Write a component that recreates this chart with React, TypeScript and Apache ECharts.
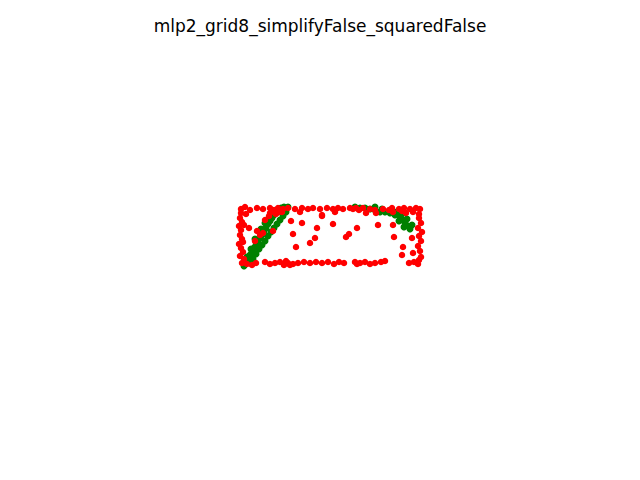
import React, { useEffect, useRef } from "react";
import * as echarts from "echarts";

const title = "mlp2_grid8_simplifyFalse_squaredFalse";

const greenPoints: number[][] = [
  [-0.87, -0.29], [-0.85, -0.25], [-0.83, -0.21], [-0.81, -0.18], [-0.79, -0.15],
  [-0.77, -0.11], [-0.75, -0.08], [-0.73, -0.04], [-0.71, -0.01], [-0.69, 0.02],
  [-0.67, 0.06], [-0.65, 0.09], [-0.63, 0.13], [-0.61, 0.16], [-0.59, 0.19],
  [-0.57, 0.22], [-0.55, 0.25], [-0.53, 0.27], [-0.5, 0.29], [-0.47, 0.3], [-0.43, 0.3],
  [-0.81, -0.25], [-0.78, -0.22], [-0.75, -0.17], [-0.72, -0.12], [-0.69, -0.08],
  [-0.66, -0.04], [-0.63, 0.01], [-0.6, 0.05], [-0.57, 0.09], [-0.54, 0.13],
  [-0.51, 0.17], [-0.48, 0.21], [-0.45, 0.25],
  [-0.84, -0.2], [-0.8, -0.12], [-0.76, -0.02], [-0.7, 0.08], [-0.66, 0.14], [-0.62, 0.19],
  [0.24, 0.3], [0.29, 0.29], [0.34, 0.29], [0.39, 0.28], [0.44, 0.27], [0.49, 0.25],
  [0.54, 0.25], [0.59, 0.24], [0.64, 0.22], [0.69, 0.2], [0.72, 0.17], [0.74, 0.14],
  [0.77, 0.11], [0.79, 0.08], [0.66, 0.25], [0.61, 0.27], [0.71, 0.23], [0.76, 0.18],
  [0.81, 0.12], [0.51, 0.28], [0.44, 0.3], [0.68, 0.16], [0.73, 0.1],
];

const redPoints: number[][] = [
  // top edge
  [-0.9, 0.28], [-0.86, 0.3], [-0.81, 0.27], [-0.74, 0.29], [-0.68, 0.28], [-0.61, 0.29],
  [-0.56, 0.27], [-0.53, 0.29], [-0.48, 0.28], [-0.43, 0.29], [-0.36, 0.28], [-0.29, 0.29],
  [-0.23, 0.28], [-0.18, 0.29], [-0.11, 0.28], [-0.04, 0.29], [0.02, 0.28], [0.07, 0.29],
  [0.12, 0.28], [0.19, 0.29], [0.25, 0.29], [0.28, 0.27], [0.32, 0.29], [0.39, 0.28],
  [0.44, 0.27], [0.52, 0.28], [0.61, 0.29], [0.68, 0.28], [0.73, 0.29], [0.79, 0.28],
  [0.85, 0.29], [0.89, 0.28],
  [-0.9, 0.24], [-0.85, 0.23], [-0.61, 0.24], [-0.55, 0.23], [-0.49, 0.25], [-0.09, 0.22],
  [0.04, 0.25], [0.35, 0.24], [0.45, 0.24], [0.62, 0.25], [0.71, 0.26], [0.75, 0.24],
  [0.82, 0.25], [0.88, 0.23], [-0.58, 0.27], [-0.52, 0.25], [0.22, 0.28], [0.58, 0.27],
  // left edge
  [-0.91, 0.19], [-0.89, 0.15], [-0.92, 0.11], [-0.9, 0.07], [-0.91, 0.02], [-0.89, -0.02],
  [-0.92, -0.07], [-0.9, -0.11], [-0.88, -0.15], [-0.91, -0.19], [-0.87, -0.22], [-0.89, -0.26],
  [-0.88, -0.05], [-0.87, 0.12],
  // bottom edge
  [-0.84, -0.27], [-0.79, -0.28], [-0.75, -0.26], [-0.66, -0.25], [-0.61, -0.27], [-0.56, -0.26],
  [-0.51, -0.25], [-0.47, -0.28], [-0.43, -0.26], [-0.38, -0.27], [-0.33, -0.26], [-0.27, -0.25],
  [-0.21, -0.26], [-0.15, -0.25], [-0.09, -0.26], [-0.03, -0.25], [0.03, -0.27], [0.08, -0.25],
  [0.13, -0.26], [0.24, -0.25], [0.29, -0.26], [0.34, -0.25], [0.39, -0.27], [0.44, -0.26],
  [0.5, -0.25], [0.54, -0.24], [0.78, -0.26], [0.83, -0.25], [0.87, -0.27],
  [-0.45, -0.24], [-0.41, -0.28], [0.26, -0.27],
  // right edge
  [0.88, 0.19], [0.9, 0.14], [0.87, 0.09], [0.91, 0.05], [0.88, 0.01], [0.9, -0.04],
  [0.87, -0.09], [0.89, -0.14], [0.9, -0.2], [0.88, -0.23],
  // interior
  [-0.82, 0.09], [-0.74, 0.06], [-0.76, -0.04], [-0.71, 0.02], [-0.68, 0.04], [-0.58, 0.06],
  [-0.4, 0.16], [-0.29, 0.14], [-0.09, 0.21], [-0.14, 0.09], [-0.16, -0.01], [-0.21, -0.06],
  [-0.38, 0.03], [-0.35, -0.1], [0.02, 0.13], [0.26, 0.09], [0.47, 0.12], [0.62, 0.12],
  [0.18, 0.03], [0.15, 0.0], [0.63, 0.0], [0.72, -0.1], [0.71, -0.18], [0.82, -0.16],
  [0.81, -0.01], [-0.66, 0.17], [-0.62, 0.21], [-0.31, 0.25],
];

const X_MIN = -2.51;
const X_MAX = 2.45;
const Y_MIN = -1.9;
const Y_MAX = 1.79;

export default function App() {
  const ref = useRef<HTMLDivElement>(null);
  useEffect(() => {
    document.body.style.margin = "0";
    if (!ref.current) return;
    const chart = echarts.init(ref.current, null, { renderer: "svg" });
    chart.setOption({
      animation: false,
      backgroundColor: "#ffffff",
      title: {
        text: title,
        left: "center",
        top: 12,
        textStyle: {
          fontFamily: "DejaVu Sans",
          fontSize: 17,
          fontWeight: "normal",
          color: "#000000",
        },
      },
      grid: { left: 80, top: 58, width: 496, height: 369 },
      xAxis: { type: "value", min: X_MIN, max: X_MAX, show: false },
      yAxis: { type: "value", min: Y_MIN, max: Y_MAX, show: false },
      series: [
        {
          type: "scatter",
          data: greenPoints,
          symbolSize: 7,
          itemStyle: { color: "#008000", opacity: 1 },
        },
        {
          type: "scatter",
          data: redPoints,
          symbolSize: 6.5,
          itemStyle: { color: "#ff0000", opacity: 1 },
        },
      ],
    });
    return () => chart.dispose();
  }, []);
  return <div ref={ref} style={{ width: 640, height: 480 }} />;
}
